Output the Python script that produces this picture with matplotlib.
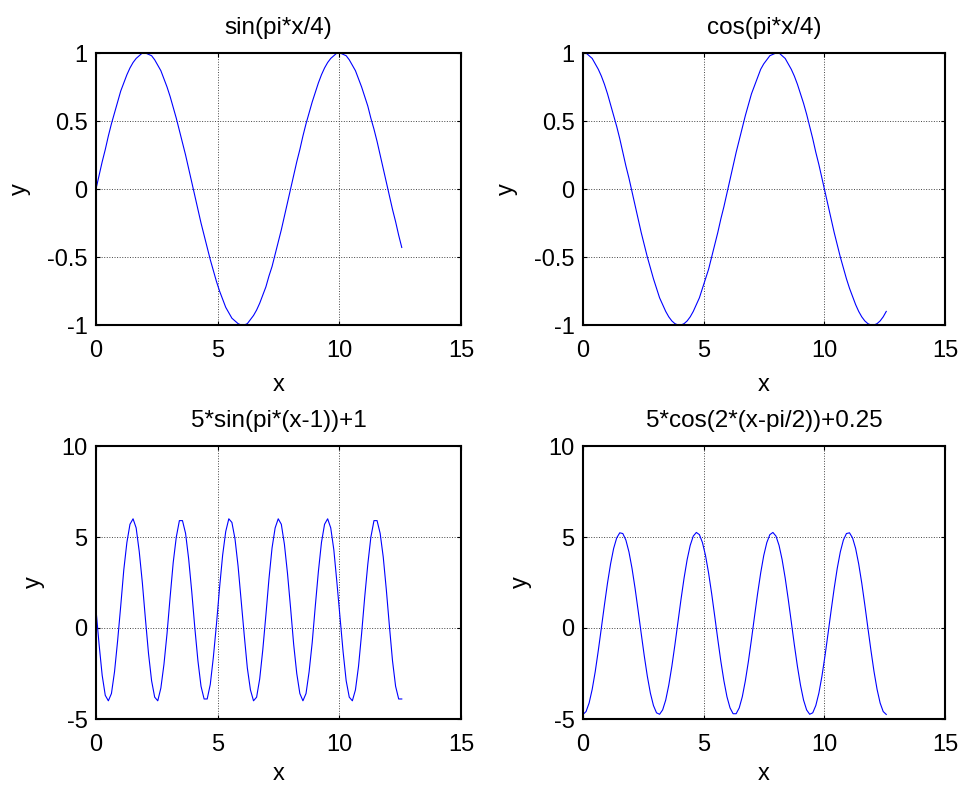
import numpy as np
import matplotlib
matplotlib.use("Agg")
import matplotlib.pyplot as plt

plt.rcParams['font.family'] = ['Liberation Sans', 'DejaVu Sans']
plt.rcParams['font.size'] = 17

# 100 samples from 0 to 4*pi
x_end = 12.566
n_pts = 100
x = np.linspace(0, x_end, n_pts)

y_sin = [0, 0.1, 0.2, 0.29, 0.39, 0.48, 0.56, 0.64, 0.72, 0.78,
         0.84, 0.89, 0.93, 0.96, 0.98, 1, 1, 0.99, 0.98, 0.95,
         0.91, 0.87, 0.81, 0.75, 0.68, 0.6, 0.52, 0.43, 0.34, 0.25,
         0.15, 0.05, -0.05, -0.15, -0.25, -0.34, -0.43, -0.52, -0.6, -0.68,
         -0.75, -0.81, -0.87, -0.91, -0.95, -0.97, -0.99, -1, -1, -0.99,
         -0.96, -0.93, -0.89, -0.84, -0.78, -0.72, -0.64, -0.57, -0.48, -0.39,
         -0.3, -0.2, -0.1, 0, 0.1, 0.2, 0.29, 0.39, 0.48, 0.56,
         0.64, 0.71, 0.78, 0.84, 0.89, 0.93, 0.96, 0.98, 1, 1,
         0.99, 0.98, 0.95, 0.91, 0.87, 0.81, 0.75, 0.68, 0.61, 0.52,
         0.44, 0.35, 0.25, 0.15, 0.05, -0.05, -0.15, -0.24, -0.34, -0.43]

y_cos = [1, 1, 0.98, 0.96, 0.92, 0.88, 0.83, 0.77, 0.7, 0.62,
         0.54, 0.46, 0.37, 0.27, 0.17, 0.08, -0.02, -0.12, -0.22, -0.32,
         -0.41, -0.5, -0.58, -0.66, -0.73, -0.8, -0.85, -0.9, -0.94, -0.97,
         -0.99, -1, -1, -0.99, -0.97, -0.94, -0.9, -0.85, -0.8, -0.73,
         -0.66, -0.59, -0.5, -0.41, -0.32, -0.22, -0.13, -0.03, 0.07, 0.17,
         0.27, 0.36, 0.45, 0.54, 0.62, 0.7, 0.76, 0.82, 0.88, 0.92,
         0.95, 0.98, 0.99, 1, 1, 0.98, 0.96, 0.92, 0.88, 0.83,
         0.77, 0.7, 0.63, 0.55, 0.46, 0.37, 0.27, 0.18, 0.08, -0.02,
         -0.12, -0.22, -0.32, -0.41, -0.5, -0.58, -0.66, -0.73, -0.79, -0.85,
         -0.9, -0.94, -0.97, -0.99, -1, -1, -0.99, -0.97, -0.94, -0.9]

y_sin5 = [1.0, -0.9, -2.6, -3.7, -4.0, -3.6, -2.4, -0.7, 1.2, 3.2,
          4.7, 5.7, 6.0, 5.5, 4.2, 2.5, 0.5, -1.4, -2.9, -3.8,
          -4.0, -3.3, -2.0, -0.3, 1.7, 3.6, 5.0, 5.9, 5.9, 5.2,
          3.8, 2.0, 0.0, -1.8, -3.2, -3.9, -3.9, -3.1, -1.6, 0.2,
          2.2, 4.0, 5.3, 6.0, 5.8, 4.9, 3.4, 1.5, -0.4, -2.2,
          -3.4, -4.0, -3.8, -2.8, -1.2, 0.7, 2.7, 4.4, 5.5, 6.0,
          5.7, 4.6, 3.0, 1.1, -0.9, -2.5, -3.6, -4.0, -3.6, -2.4,
          -0.8, 1.2, 3.1, 4.7, 5.7, 6.0, 5.5, 4.3, 2.5, 0.6,
          -1.3, -2.9, -3.8, -4.0, -3.4, -2.1, -0.3, 1.7, 3.5, 5.0,
          5.9, 5.9, 5.2, 3.9, 2.1, 0.1, -1.8, -3.2, -3.9, -3.9]

y_cos5 = [-4.75, -4.59, -4.12, -3.37, -2.39, -1.23, 0.01, 1.27, 2.47, 3.52,
          4.37, 4.95, 5.23, 5.19, 4.83, 4.18, 3.28, 2.18, 0.96, -0.3,
          -1.53, -2.65, -3.58, -4.26, -4.66, -4.74, -4.5, -3.96, -3.14, -2.11,
          -0.93, 0.33, 1.58, 2.75, 3.76, 4.54, 5.05, 5.25, 5.13, 4.69,
          3.98, 3.02, 1.89, 0.65, -0.62, -1.83, -2.9, -3.78, -4.39, -4.71,
          -4.71, -4.39, -3.78, -2.9, -1.83, -0.62, 0.65, 1.89, 3.02, 3.98,
          4.69, 5.13, 5.25, 5.05, 4.54, 3.76, 2.75, 1.58, 0.33, -0.93,
          -2.11, -3.14, -3.96, -4.5, -4.74, -4.66, -4.26, -3.58, -2.65, -1.53,
          -0.3, 0.96, 2.18, 3.28, 4.18, 4.83, 5.19, 5.23, 4.95, 4.37,
          3.52, 2.47, 1.27, 0.01, -1.23, -2.39, -3.37, -4.12, -4.59, -4.75]

titles = ["sin(pi*x/4)", "cos(pi*x/4)", "5*sin(pi*(x-1))+1", "5*cos(2*(x-pi/2))+0.25"]
series = [y_sin, y_cos, y_sin5, y_cos5]

W, H = 968, 785
# axes boxes in pixels: left, top, right, bottom
boxes = [(96, 53, 461, 325), (583, 53, 945, 325), (96, 446, 461, 719), (583, 446, 945, 719)]

fig = plt.figure(figsize=(W / 100, H / 100), dpi=100)
for i, (l, t, r, b) in enumerate(boxes):
    ax = fig.add_axes([l / W, 1 - b / H, (r - l) / W, (b - t) / H])
    ax.plot(x, series[i], color="blue", lw=0.8)
    ax.set_xlim(0, 15)
    ax.set_xticks([0, 5, 10, 15])
    if i < 2:
        ax.set_ylim(-1, 1)
        ax.set_yticks([-1, -0.5, 0, 0.5, 1])
        ax.set_yticklabels(["-1", "-0.5", "0", "0.5", "1"])
    else:
        ax.set_ylim(-5, 10)
        ax.set_yticks([-5, 0, 5, 10])
        ax.set_yticklabels(["-5", "0", "5", "10"])
    ax.grid(True, color="#444444", linestyle=":", linewidth=0.7)
    ax.tick_params(direction="in", length=3, width=0.8, top=True, right=True)
    ax.tick_params(axis="x", pad=10.5)
    ax.tick_params(axis="y", pad=6)
    for s in ax.spines.values():
        s.set_linewidth(1.5)
    # bottom row label sits a bit higher so it stays inside the figure
    ax.set_xlabel("x", labelpad=9 if i < 2 else 5.5)
    ax.set_ylabel("y", labelpad=12)
    ax.set_title(titles[i], fontsize=17.5, pad=14)

fig.savefig("out.png", dpi=100)
